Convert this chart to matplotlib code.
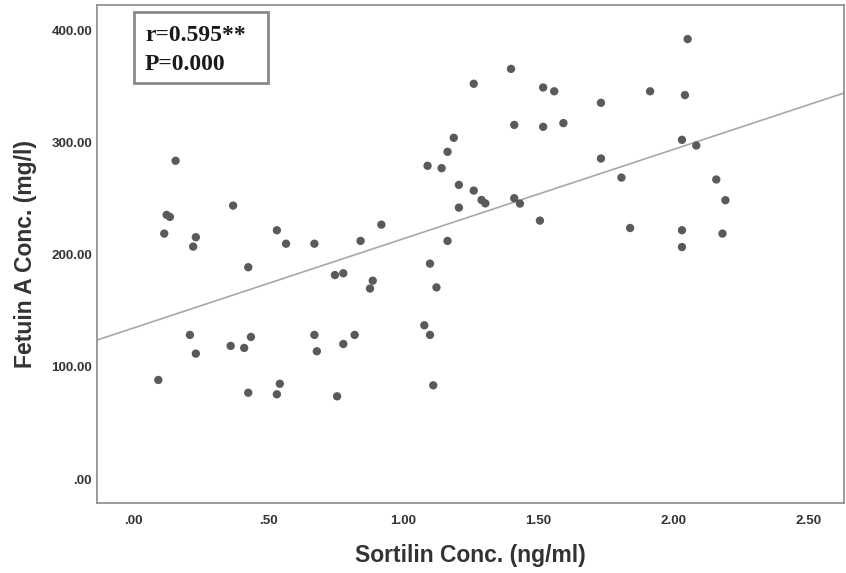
import matplotlib
matplotlib.use("Agg")
import matplotlib.pyplot as plt
from matplotlib.patches import Rectangle
import numpy as np

sortilin = [0.158, 0.125, 0.137, 0.116, 0.233, 0.223, 0.371, 0.427, 0.533, 0.567,
            0.672, 0.843, 0.920, 0.748, 0.779, 0.888, 0.878, 1.091, 1.143, 1.165,
            1.188, 1.207, 1.207, 1.165, 1.100, 1.124, 0.211, 0.233, 0.362, 0.412,
            0.437, 0.094, 0.427, 0.533, 0.544, 0.672, 0.681, 0.779, 0.821, 0.756,
            1.079, 1.100, 1.112, 2.054, 1.400, 1.262, 1.519, 1.560, 1.915, 2.044,
            1.733, 1.412, 1.519, 1.594, 2.033, 2.086, 1.733, 1.262, 1.291, 1.305,
            1.412, 1.433, 1.809, 2.160, 2.194, 1.507, 1.841, 2.033, 2.033, 2.183]
fetuin = [284.0, 235.7, 233.9, 219.0, 215.8, 207.4, 244.0, 189.0, 222.0, 210.0,
          210.0, 212.5, 227.0, 182.0, 183.6, 177.0, 170.0, 279.5, 277.4, 292.0,
          304.5, 262.5, 242.2, 212.5, 192.2, 171.0, 128.6, 111.9, 118.8, 117.0,
          126.8, 88.4, 77.0, 75.6, 85.0, 128.6, 114.0, 120.5, 128.6, 73.8,
          137.2, 128.6, 83.6, 392.6, 366.0, 352.7, 349.4, 346.0, 346.0, 342.6,
          335.7, 316.0, 314.3, 317.6, 302.7, 297.6, 286.0, 257.4, 249.0, 246.0,
          250.6, 245.8, 269.0, 267.3, 248.8, 230.6, 224.0, 222.0, 207.0, 219.0]

fit_intercept = 134.6
fit_slope = 79.7

x_ticks = [0.0, 0.5, 1.0, 1.5, 2.0, 2.5]
x_tick_labels = [".00", ".50", "1.00", "1.50", "2.00", "2.50"]
y_ticks = [0, 100, 200, 300, 400]
y_tick_labels = [".00", "100.00", "200.00", "300.00", "400.00"]
stats_lines = ["r=0.595**", "P=0.000"]

W, H = 846, 573
fig = plt.figure(figsize=(W / 100, H / 100), dpi=100)
ax = fig.add_axes([97 / W, 1 - 503 / H, (844 - 97) / W, (503 - 5) / H])

xlim = (-0.133, 2.633)
ylim = (-21.4, 423.0)
ax.set_xlim(*xlim)
ax.set_ylim(*ylim)

xs = np.array(xlim)
ax.plot(xs, fit_intercept + fit_slope * xs, color="#a8a8a8", lw=1.2, zorder=2)
ax.scatter(sortilin, fetuin, s=36, color="#5a5a5a", edgecolors="none", zorder=3)

ax.set_xticks(x_ticks)
ax.set_xticklabels(x_tick_labels)
ax.set_yticks(y_ticks)
ax.set_yticklabels(y_tick_labels)
for lab in ax.get_xticklabels() + ax.get_yticklabels():
    lab.set_fontfamily("Liberation Sans")
    lab.set_fontweight("bold")
    lab.set_fontsize(9.6)
    lab.set_color("#333333")
ax.tick_params(axis="both", length=0)
ax.tick_params(axis="y", pad=3.6)
ax.tick_params(axis="x", pad=9)

for sp in ax.spines.values():
    sp.set_color("#8a8a8a")
    sp.set_linewidth(1.2)

ax.set_xlabel("Sortilin Conc. (ng/ml)", fontfamily="Liberation Sans",
              fontweight="bold", fontsize=16.5, color="#333333", labelpad=12)
ax.set_ylabel("Fetuin A Conc. (mg/l)", fontfamily="Liberation Sans",
              fontweight="bold", fontsize=16.5, color="#333333")
ax.yaxis.set_label_coords(-0.080, 0.5)

# stats box (figure pixel coordinates)
rect = Rectangle((134 / W, 1 - 83 / H), (268 - 134) / W, (83 - 12) / H,
                 transform=fig.transFigure, fill=False, edgecolor="#8a8a8a",
                 linewidth=2.0)
fig.add_artist(rect)
fig.text(145 / W, 1 - 41 / H, stats_lines[0], fontfamily="Liberation Serif",
         fontweight="bold", fontsize=17, color="#1a1a1a", va="baseline")
fig.text(145 / W, 1 - 70 / H, stats_lines[1], fontfamily="Liberation Serif",
         fontweight="bold", fontsize=17, color="#1a1a1a", va="baseline")

fig.savefig("out.png", dpi=100)
